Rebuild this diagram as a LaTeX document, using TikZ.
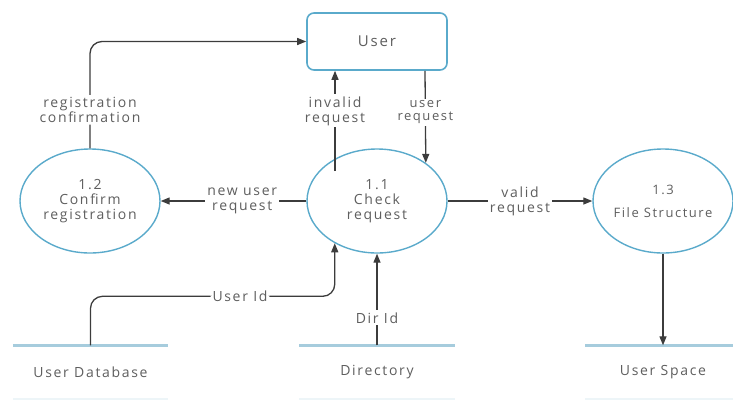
\documentclass[tikz,border=0pt]{standalone}
\usepackage{fontspec}
\setmainfont{Open Sans}[LetterSpace=12.0]
\usetikzlibrary{arrows.meta,shapes.geometric}

\definecolor{procblue}{HTML}{5AAACB}
\definecolor{storeblue}{HTML}{A6CCDD}
\definecolor{flowgray}{HTML}{3C3C3C}
\definecolor{txtgray}{HTML}{5E5E5E}

\begin{document}
\begin{tikzpicture}[x=1pt, y=-1pt,
	every node/.style = {text = txtgray, font = \fontsize{14}{15}\selectfont, align = center},
	proc/.style = {ellipse, draw = procblue, line width = 1.4pt, minimum width = 140pt, minimum height = 104pt, inner sep = 0pt},
	entity/.style = {rectangle, rounded corners = 7pt, draw = procblue, line width = 1.6pt, minimum width = 140pt, minimum height = 57pt},
	store/.style = {minimum width = 155pt, minimum height = 53pt, inner sep = 0pt,
		append after command = {(\tikzlastnode.north west) edge[draw = storeblue, line width = 2.5pt] (\tikzlastnode.north east)
			(\tikzlastnode.south west) edge[draw = storeblue!20, line width = 2pt] (\tikzlastnode.south east)}},
	flow/.style = {draw = flowgray, line width = 1.3pt, -{Triangle[length = 9pt, width = 7pt]}},
	lbl/.style = {fill = white, inner sep = 2pt}]
\useasboundingbox (0, 0) rectangle (733, 400);

\node[entity, font = \fontsize{15}{16}\selectfont] (user) at (377, 41.5) {User};
\node[proc] (p12) at (90, 201) {1.2\\Confirm\\registration};
\node[proc] (p11) at (377, 201) {1.1\\Check\\request};
\node[proc, inner xsep = -4pt, font = \fontsize{13}{14}\selectfont] (p13) at (663, 201) {1.3\\[9pt]File Structure};

\node[store] (udb) at (90.5, 372) {User Database};
\node[store] (dir) at (377, 372) {Directory};
\node[store] (usp) at (663, 372) {User Space};

\draw[flow, rounded corners = 12pt] (p12.north) |- (user.west)
	node[lbl, pos = 0.18] {registration\\confirmation};
\draw[flow] ([xshift = -42pt, yshift = 30pt]p11.center) -- ([xshift = -42pt]user.south)
	node[lbl, pos = 0.6] {invalid\\request};
\draw[flow] ([xshift = 48pt]user.south) -- (p11.38)
	node[lbl, pos = 0.45, font = \fontsize{13}{13}\selectfont] {user\\request};
\draw[flow] (p11.west) -- (p12.east) node[lbl, pos = 0.44] {new user\\request};
\draw[flow] (p11.east) -- (p13.west) node[lbl, midway] {valid\\request};
\draw[flow, rounded corners = 12pt] (udb.north) -- ++(0, -49) -| (p11.225)
	node[lbl, pos = 0.306] {User Id};
\draw[flow] (dir.north) -- (p11.south) node[lbl, pos = 0.3] {Dir Id};
\draw[flow] (p13.south) -- (usp.north);
\end{tikzpicture}
\end{document}
